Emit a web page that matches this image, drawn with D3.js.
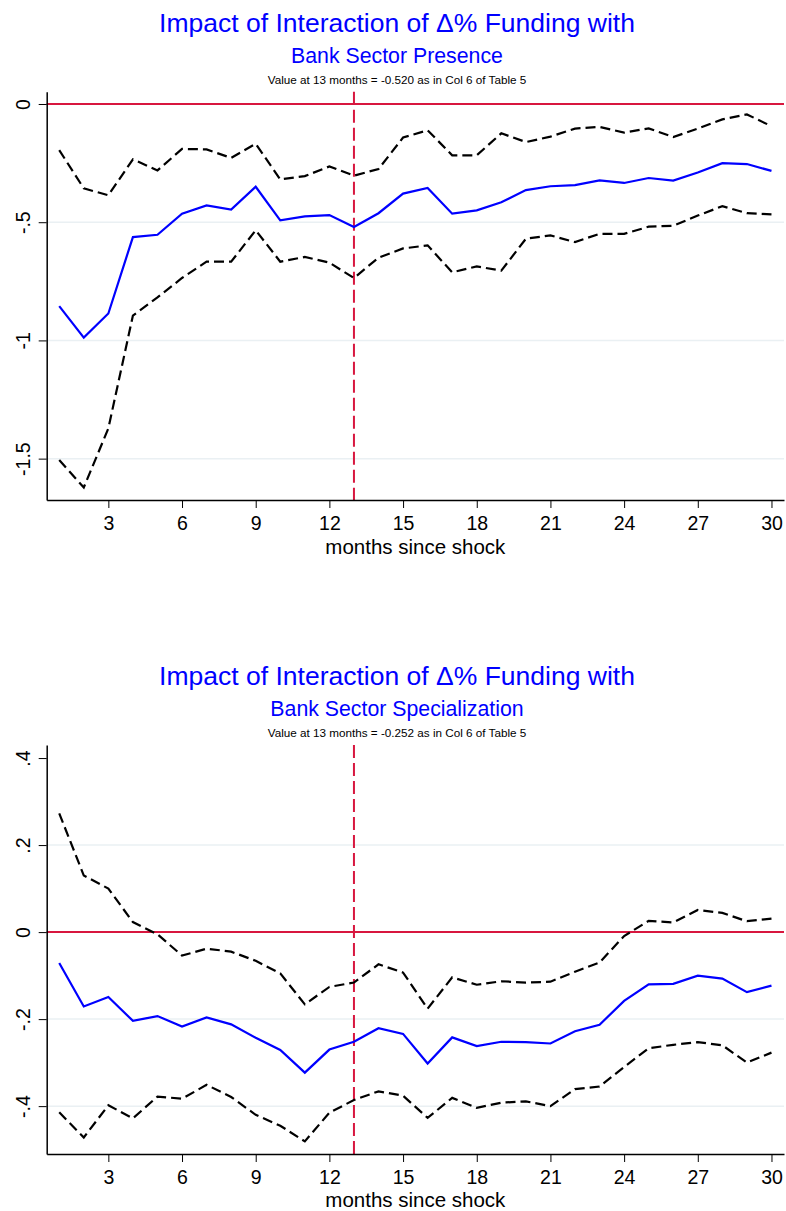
<!DOCTYPE html>
<html>
<head>
<meta charset="utf-8">
<script src="https://cdn.jsdelivr.net/npm/d3@7"></script>
<style>
  html, body { margin: 0; padding: 0; background: #fff; }
  svg { display: block; }
  text { font-family: "Liberation Sans", Arial, Helvetica, sans-serif; }
</style>
</head>
<body>
<svg id="chart" width="786" height="1211"></svg>
<script>
// ---------- DATA ----------
const months = [1,2,3,4,5,6,7,8,9,10,11,12,13,14,15,16,17,18,19,20,21,22,23,24,25,26,27,28,29,30];
const xTicks = [3,6,9,12,15,18,21,24,27,30];

// Panel 1: Bank Sector Presence
const presenceCoef = [-0.855,-0.988,-0.886,-0.563,-0.553,-0.464,-0.429,-0.447,-0.350,-0.492,-0.475,-0.470,-0.520,-0.462,-0.379,-0.355,-0.464,-0.450,-0.416,-0.364,-0.348,-0.343,-0.323,-0.334,-0.313,-0.324,-0.290,-0.250,-0.254,-0.283];
const presenceUpper = [-0.195,-0.357,-0.386,-0.234,-0.281,-0.190,-0.192,-0.228,-0.168,-0.319,-0.305,-0.264,-0.303,-0.275,-0.142,-0.111,-0.217,-0.217,-0.124,-0.161,-0.138,-0.104,-0.097,-0.121,-0.103,-0.140,-0.104,-0.065,-0.044,-0.094];
const presenceLower = [-1.506,-1.622,-1.372,-0.895,-0.818,-0.736,-0.667,-0.667,-0.534,-0.667,-0.647,-0.671,-0.736,-0.650,-0.611,-0.598,-0.712,-0.687,-0.705,-0.570,-0.556,-0.584,-0.549,-0.549,-0.519,-0.515,-0.472,-0.432,-0.462,-0.467];
const presenceYTicks = [0,-0.5,-1,-1.5];
const presenceYLabels = ["0","-.5","-1","-1.5"];

// Panel 2: Bank Sector Specialization
const specCoef = [-0.071,-0.171,-0.149,-0.204,-0.193,-0.217,-0.196,-0.212,-0.243,-0.271,-0.323,-0.270,-0.252,-0.221,-0.234,-0.302,-0.242,-0.262,-0.252,-0.253,-0.256,-0.228,-0.213,-0.158,-0.120,-0.119,-0.100,-0.107,-0.138,-0.123];
const specUpper = [0.273,0.130,0.100,0.023,-0.005,-0.054,-0.038,-0.045,-0.066,-0.095,-0.166,-0.126,-0.116,-0.074,-0.093,-0.176,-0.104,-0.121,-0.113,-0.116,-0.114,-0.091,-0.070,-0.009,0.026,0.022,0.051,0.044,0.025,0.031];
const specLower = [-0.414,-0.472,-0.398,-0.428,-0.378,-0.383,-0.351,-0.379,-0.420,-0.445,-0.481,-0.415,-0.386,-0.366,-0.376,-0.427,-0.381,-0.404,-0.392,-0.389,-0.400,-0.361,-0.355,-0.310,-0.267,-0.259,-0.253,-0.260,-0.300,-0.277];
const specYTicks = [0.4,0.2,0,-0.2,-0.4];
const specYLabels = [".4",".2","0","-.2","-.4"];

const mainTitle = "Impact of Interaction of \u0394% Funding with";
const subTitles = ["Bank Sector Presence", "Bank Sector Specialization"];
const notes = ["Value at 13 months = -0.520 as in Col 6 of Table 5",
               "Value at 13 months = -0.252 as in Col 6 of Table 5"];
const xTitle = "months since shock";
const refMonth = 13;

// ---------- DRAW ----------
const svg = d3.select("#chart");
const plotLeft = 46.7, plotRight = 784;
const titleX = 397;

function drawPanel(offsetY, plotTop, plotBottom, yDomain, yTicks, yLabels, coef, upper, lower, gridVals, sub, note) {
  const g = svg.append("g").attr("transform", `translate(0,${offsetY})`);
  const x = d3.scaleLinear().domain([0.49, 30.51]).range([plotLeft, plotRight]);
  const y = d3.scaleLinear().domain(yDomain).range([plotBottom, plotTop]);

  // titles
  g.append("text").attr("x", titleX).attr("y", 31.7).attr("text-anchor", "middle")
    .attr("font-size", 26.5).attr("fill", "#0000ff").text(mainTitle);
  g.append("text").attr("x", titleX).attr("y", 62.7).attr("text-anchor", "middle")
    .attr("font-size", 21.3).attr("fill", "#0000ff").text(sub);
  g.append("text").attr("x", titleX).attr("y", 84).attr("text-anchor", "middle")
    .attr("font-size", 11.7).attr("fill", "#000").text(note);

  // gridlines
  g.append("g").selectAll("line").data(gridVals).join("line")
    .attr("x1", plotLeft).attr("x2", plotRight)
    .attr("y1", d => y(d)).attr("y2", d => y(d))
    .attr("stroke", "#eaf0f3").attr("stroke-width", 1.5);

  // zero line
  g.append("line").attr("x1", plotLeft).attr("x2", plotRight)
    .attr("y1", y(0)).attr("y2", y(0))
    .attr("stroke", "#d8173f").attr("stroke-width", 2);

  // vertical reference line
  g.append("line").attr("x1", x(refMonth)).attr("x2", x(refMonth))
    .attr("y1", plotTop).attr("y2", plotBottom)
    .attr("stroke", "#d8173f").attr("stroke-width", 2)
    .attr("stroke-dasharray", "13,5");

  const line = d3.line().x((d, i) => x(months[i])).y(d => y(d));

  g.append("path").datum(upper).attr("d", line).attr("fill", "none")
    .attr("stroke", "#000").attr("stroke-width", 2.2).attr("stroke-dasharray", "10,5");
  g.append("path").datum(lower).attr("d", line).attr("fill", "none")
    .attr("stroke", "#000").attr("stroke-width", 2.2).attr("stroke-dasharray", "10,5");
  g.append("path").datum(coef).attr("d", line).attr("fill", "none")
    .attr("stroke", "#0000ff").attr("stroke-width", 2.2);

  // x axis
  const xAxis = d3.axisBottom(x).tickValues(xTicks).tickSize(8).tickSizeOuter(0).tickFormat(d3.format("d"));
  const xg = g.append("g").attr("transform", `translate(0,${plotBottom})`).call(xAxis);
  xg.select(".domain").attr("stroke", "#000").attr("stroke-width", 1.5);
  xg.selectAll(".tick line").attr("stroke", "#000").attr("stroke-width", 1);
  xg.selectAll(".tick text").attr("font-size", 19.5).attr("fill", "#000")
    .attr("font-family", '"Liberation Sans", Arial, sans-serif')
    .attr("y", 30.3).attr("dy", 0);

  // y axis
  const labelMap = new Map(yTicks.map((t, i) => [t, yLabels[i]]));
  const yAxis = d3.axisLeft(y).tickValues(yTicks).tickSize(8).tickSizeOuter(0)
    .tickFormat(d => labelMap.get(d));
  const yg = g.append("g").attr("transform", `translate(${plotLeft},0)`).call(yAxis);
  yg.select(".domain").attr("stroke", "#000").attr("stroke-width", 1.5);
  yg.selectAll(".tick line").attr("stroke", "#000").attr("stroke-width", 1);
  yg.selectAll(".tick text").attr("font-size", 19.5).attr("fill", "#000")
    .attr("font-family", '"Liberation Sans", Arial, sans-serif')
    .attr("transform", "rotate(-90)").attr("text-anchor", "middle")
    .attr("x", 0).attr("y", -16.7).attr("dy", 0);

  // x axis title
  g.append("text").attr("x", (plotLeft + plotRight) / 2).attr("y", 553.8)
    .attr("text-anchor", "middle").attr("font-size", 20.5).attr("fill", "#000").text(xTitle);
}

drawPanel(0, 91.7, 500, [-1.675, 0.052], presenceYTicks, presenceYLabels,
  presenceCoef, presenceUpper, presenceLower, [-0.5, -1, -1.5], subTitles[0], notes[0]);
drawPanel(653.3, 91.7, 500.7, [-0.51, 0.43], specYTicks, specYLabels,
  specCoef, specUpper, specLower, [0.2, -0.2, -0.4], subTitles[1], notes[1]);
</script>
</body>
</html>
